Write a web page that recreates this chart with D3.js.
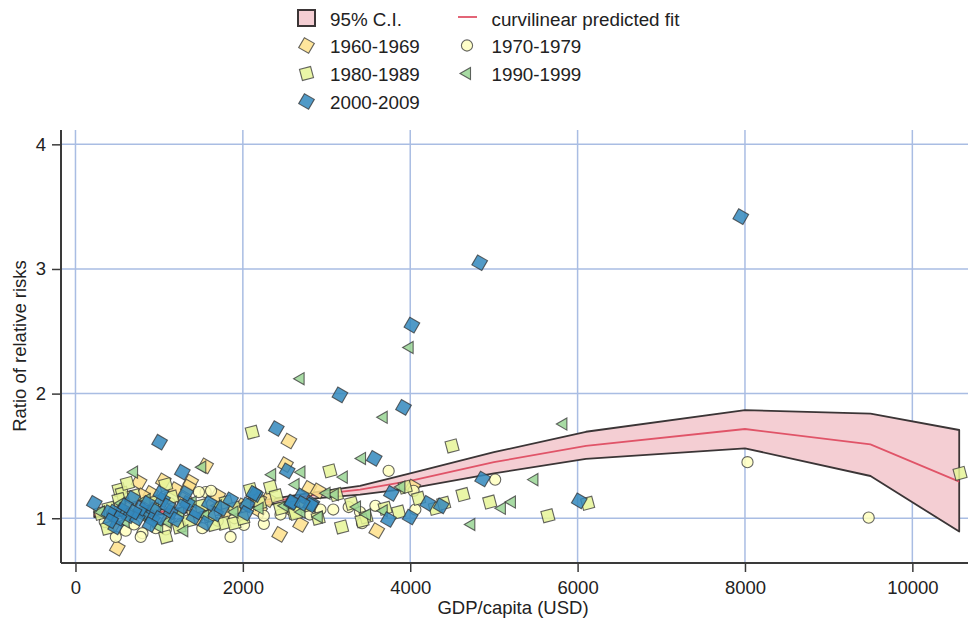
<!DOCTYPE html>
<html>
<head>
<meta charset="utf-8">
<script src="https://cdn.jsdelivr.net/npm/d3@7"></script>
<style>
  body { margin: 0; background: #fff; }
  text { font-family: "Liberation Sans", Arial, sans-serif; fill: #222; }
</style>
</head>
<body>
<div id="chartDiv" style="width:972px;height:625px"></div>
<script>
// data: [GDP per capita (USD), ratio of relative risks]
var g1960 = [[2550,1.62],[1555,1.42],[2510,1.43],[2790,1.24],[2690,0.95],[2440,0.87],[3600,0.90],
  [1377,1.29],[1615,1.09],[760,1.29],[500,0.76],[1200,1.23],[900,1.20],[1050,1.30],[650,1.10],
  [1300,1.15],[1800,1.05],[2000,1.10],[2200,1.06],[450,0.95],[1100,0.98],[1450,1.00],[2300,1.15],
  [800,1.18],[1700,1.18],[2600,1.06],[2900,1.22],[2190,1.15],[4030,1.25],[1350,1.25],[600,1.05]];

var g1970 = [[8030,1.45],[9478,1.005],[3742,1.38],[5015,1.31],[2927,1.07],[3265,1.09],[3584,1.10],
  [4061,1.07],[4040,1.22],[2251,0.955],[2450,1.03],[3424,0.96],[1555,1.21],[1475,1.21],[1853,0.85],
  [800,0.88],[482,0.85],[960,0.92],[1515,0.92],[780,0.85],[1080,0.91],[2013,0.946],[2250,1.02],
  [600,0.90],[1250,0.95],[1700,0.98],[1400,1.05],[2800,1.03],[3080,1.07],[3400,1.05],[350,0.97],
  [1900,1.00],[1130,1.12],[1620,1.22],[700,0.95]];

var g1980 = [[10570,1.36],[6120,1.12],[4500,1.58],[3040,1.38],[4630,1.19],[4950,1.13],[5645,1.02],
  [3180,0.93],[3862,1.05],[4100,1.16],[3472,1.01],[3940,1.25],[3118,1.19],[2331,1.25],[2610,1.045],
  [3424,0.98],[2112,1.69],[521,1.23],[1078,1.27],[2630,1.04],[1078,0.85],[2092,1.23],[1774,0.96],
  [1894,0.96],[560,1.20],[520,1.15],[382,0.92],[1237,0.93],[700,1.18],[850,1.05],[950,1.13],
  [1150,1.17],[1350,0.98],[1500,1.10],[1650,0.95],[2000,1.00],[2200,1.12],[2450,1.08],[2750,1.10],
  [2900,1.00],[1800,1.13],[400,1.08],[300,1.04],[1600,1.02],[2400,1.18],[3300,1.12],[3700,1.08],
  [4300,1.08],[4400,1.12],[620,1.28],[1900,1.08]];

var g1990 = [[2690,2.12],[3993,2.37],[3683,1.81],[5830,1.756],[3424,1.48],[3206,1.33],[5484,1.31],
  [5215,1.13],[5095,1.08],[4730,0.95],[2907,1.01],[3098,1.19],[3364,1.09],[3484,1.03],[3683,1.06],
  [3894,1.25],[2700,1.37],[2350,1.35],[1515,1.41],[2630,1.27],[700,1.37],[303,1.05],[2500,1.10],
  [3000,1.20],[450,1.00],[600,0.97],[800,1.02],[950,1.08],[1100,0.97],[1250,1.05],[1400,1.13],
  [1550,1.02],[1700,1.10],[1900,1.05],[2050,1.12],[2200,1.08],[2700,1.05],[550,1.12],[1000,0.93],
  [1300,0.90],[850,1.15]];

var g2000 = [[7950,3.42],[4830,3.05],[4020,2.55],[3160,1.99],[3920,1.89],[2400,1.72],[1005,1.61],
  [3570,1.48],[2530,1.38],[1277,1.37],[4865,1.315],[6020,1.14],[3740,0.99],[4000,1.01],[3775,1.20],
  [4210,1.12],[4370,1.10],[2825,1.115],[2700,1.18],[2580,1.125],[2150,1.19],[225,1.12],[1854,1.147],
  [1675,1.035],[1556,0.96],[1416,1.01],[1337,1.12],[2052,1.107],[2033,1.04],[2132,1.20],[2590,1.13],
  [2810,1.107],[680,1.16],[560,1.066],[460,1.05],[640,1.02],[480,0.93],[840,1.04],[940,1.066],
  [1040,1.147],[1140,1.05],[1200,0.99],[1277,1.093],[920,0.99],[740,1.0],[520,1.0],[400,1.045],
  [780,1.08],[1317,1.20],[600,1.10],[700,1.05],[860,1.12],[1000,1.00],[1100,1.10],[1450,1.05],
  [1600,1.12],[1750,1.08],[420,0.98],[1020,1.20],[890,0.95],[2710,1.12]];

// curvilinear fit and its 95% band
var fitX     = [224, 1000, 2000, 2870, 3400, 4000, 5000, 6100, 8000, 9500, 10560];
var fitY     = [1.03, 1.05, 1.10, 1.19, 1.23, 1.30, 1.45, 1.58, 1.716, 1.593, 1.294];
var ciUpper  = [1.05, 1.07, 1.12, 1.21, 1.26, 1.36, 1.53, 1.694, 1.868, 1.839, 1.708];
var ciLower  = [1.01, 1.03, 1.08, 1.16, 1.19, 1.24, 1.36, 1.476, 1.561, 1.339, 0.893];

var xTicks = [0, 2000, 4000, 6000, 8000, 10000];
var yTicks = [1, 2, 3, 4];

function drawChart() {
    let chartDiv = document.getElementById("chartDiv");
    let width = 972, height = 625;

    let svg = d3.select(chartDiv).append("svg")
        .attr("width", width)
        .attr("height", height);

    const plot = {left: 61, right: 968, top: 130, bottom: 563};

    let x = d3.scaleLinear()
        .domain([-173, 10665])
        .range([plot.left, plot.right]);

    let y = d3.scaleLinear()
        .domain([0.641, 4.115])
        .range([plot.bottom, plot.top]);

    const gridColor = "#a9bde3";

    // grid lines
    svg.append("g").selectAll("line.hg")
        .data(yTicks).enter().append("line")
        .attr("x1", plot.left).attr("x2", plot.right)
        .attr("y1", d => y(d)).attr("y2", d => y(d))
        .style("stroke", gridColor).style("stroke-width", 1.5);

    svg.append("g").selectAll("line.vg")
        .data(xTicks).enter().append("line")
        .attr("x1", d => x(d)).attr("x2", d => x(d))
        .attr("y1", plot.top).attr("y2", plot.bottom)
        .style("stroke", gridColor).style("stroke-width", 1.5);

    // axes
    let xAxis = d3.axisBottom(x).tickValues(xTicks).tickSize(9).tickPadding(6).tickFormat(d3.format("d"));
    let yAxis = d3.axisLeft(y).tickValues(yTicks).tickSize(9).tickPadding(6).tickFormat(d3.format("d"));

    let gx = svg.append("g")
        .attr("transform", `translate(0, ${plot.bottom})`)
        .call(xAxis);
    let gy = svg.append("g")
        .attr("transform", `translate(${plot.left}, 0)`)
        .call(yAxis);

    [gx, gy].forEach(g => {
        g.select(".domain").remove();
        g.selectAll(".tick line").style("stroke", "#3a3a3a").style("stroke-width", 1.5);
        g.selectAll(".tick text")
            .style("font-size", "18.5px")
            .style("font-family", '"Liberation Sans", Arial, sans-serif')
            .style("fill", "#222");
    });
    gx.selectAll(".tick text").attr("dy", "0.86em");

    // axis lines
    svg.append("line")
        .attr("x1", plot.left).attr("x2", plot.right)
        .attr("y1", plot.bottom).attr("y2", plot.bottom)
        .style("stroke", "#3a3a3a").style("stroke-width", 2);
    svg.append("line")
        .attr("x1", plot.left).attr("x2", plot.left)
        .attr("y1", plot.top).attr("y2", plot.bottom)
        .style("stroke", "#3a3a3a").style("stroke-width", 2);

    // axis titles
    svg.append("text")
        .attr("x", 513).attr("y", 614)
        .style("text-anchor", "middle").style("font-size", "18.5px")
        .text("GDP/capita (USD)");
    svg.append("text")
        .attr("transform", "translate(25.5, 346) rotate(-90)")
        .style("text-anchor", "middle").style("font-size", "18.5px")
        .text("Ratio of relative risks");

    // confidence band
    let band = fitX.map((d, i) => ({x: d, lo: ciLower[i], hi: ciUpper[i], fit: fitY[i]}));
    let area = d3.area()
        .x(d => x(d.x))
        .y0(d => y(d.lo))
        .y1(d => y(d.hi));
    svg.append("path")
        .datum(band)
        .attr("d", area)
        .style("fill", "#f4ced3")
        .style("stroke", "#3b3536")
        .style("stroke-width", 1.8)
        .style("stroke-linejoin", "round");

    let line = d3.line()
        .x(d => x(d.x))
        .y(d => y(d.fit));
    svg.append("path")
        .datum(band)
        .attr("d", line)
        .style("fill", "none")
        .style("stroke", "#e05468")
        .style("stroke-width", 1.8);

    // marker styles
    const groups = [
        {name: "1960-1969", data: g1960, color: "#fee08b", shape: "square", rot: 30},
        {name: "1970-1979", data: g1970, color: "#ffffbf", shape: "circle", rot: 0},
        {name: "1980-1989", data: g1980, color: "#e6f598", shape: "square", rot: -15},
        {name: "1990-1999", data: g1990, color: "#99d594", shape: "triangle", rot: -90},
        {name: "2000-2009", data: g2000, color: "#3288bd", shape: "square", rot: 30}
    ];

    function markerPath(shape) {
        if (shape === "square") return d3.symbol().type(d3.symbolSquare).size(132)();
        if (shape === "circle") return d3.symbol().type(d3.symbolCircle).size(98)();
        return d3.symbol().type(d3.symbolTriangle).size(64)();
    }

    function styleMarker(sel, g) {
        sel.attr("d", markerPath(g.shape))
            .style("fill", g.color)
            .style("fill-opacity", 0.85)
            .style("stroke", "#333")
            .style("stroke-opacity", 0.75)
            .style("stroke-width", 1.1);
    }

    groups.forEach(g => {
        svg.append("g").selectAll("path")
            .data(g.data).enter().append("path")
            .attr("transform", d => `translate(${x(d[0])},${y(d[1])}) rotate(${g.rot})`)
            .call(styleMarker, g);
    });

    // legend
    const legendFont = "18.8px";
    let leg = svg.append("g");
    const col1 = 306.5, col2 = 467, rowY = [18.5, 45.5, 73.5, 101.5];

    leg.append("rect")
        .attr("x", col1 - 8.5).attr("y", rowY[0] - 8.5)
        .attr("width", 17).attr("height", 16)
        .style("fill", "#f4ced3").style("stroke", "#3b3536").style("stroke-width", 2);
    leg.append("text").attr("x", 330).attr("y", rowY[0] + 7).style("font-size", legendFont).text("95% C.I.");

    leg.append("line")
        .attr("x1", col2 - 9).attr("x2", col2 + 10)
        .attr("y1", rowY[0] - 1.5).attr("y2", rowY[0] - 1.5)
        .style("stroke", "#e05468").style("stroke-width", 1.8);
    leg.append("text").attr("x", 491.5).attr("y", rowY[0] + 7).style("font-size", legendFont).text("curvilinear predicted fit");

    const legPos = [
        [col1, rowY[1], 330], [col2, rowY[1], 491.5],
        [col1, rowY[2], 330], [col2, rowY[2], 491.5],
        [col1, rowY[3], 330]
    ];
    groups.forEach((g, i) => {
        let p = legPos[i];
        leg.append("path")
            .attr("transform", `translate(${p[0]},${p[1]}) rotate(${g.rot})`)
            .call(styleMarker, g);
        leg.append("text")
            .attr("x", p[2]).attr("y", p[1] + 7)
            .style("font-size", legendFont)
            .text(g.name);
    });
}

drawChart();
</script>
</body>
</html>
